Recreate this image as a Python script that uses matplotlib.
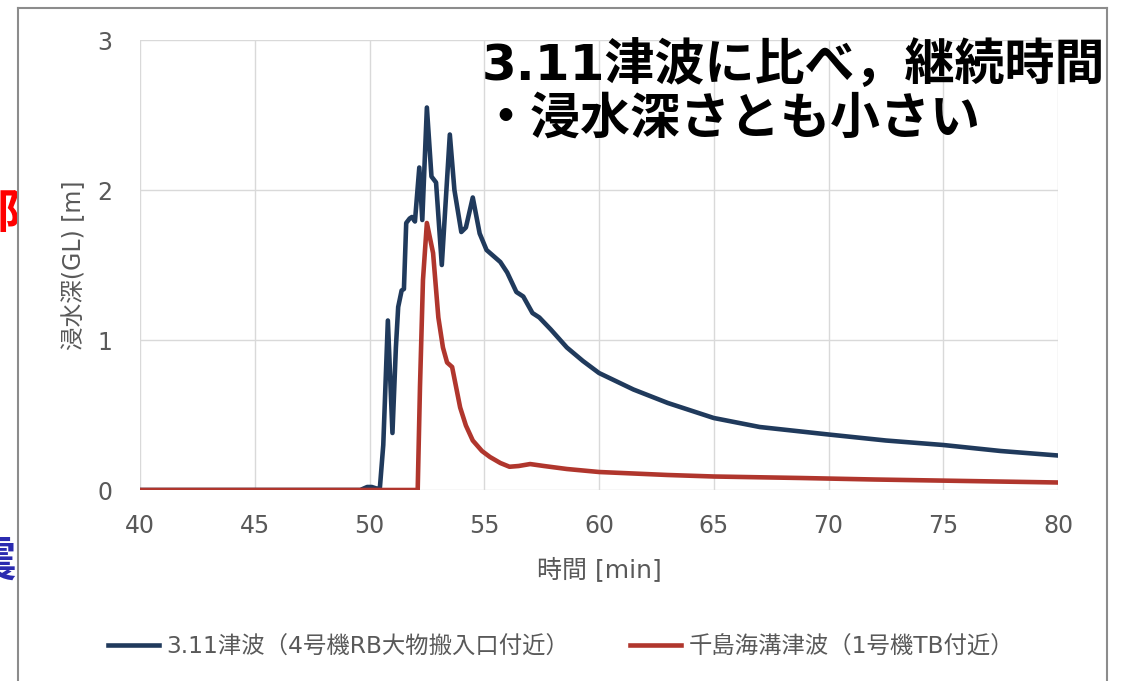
import matplotlib
matplotlib.use("Agg")
import matplotlib.pyplot as plt
from matplotlib.lines import Line2D
import numpy as np

plt.rcParams['font.family'] = ['DejaVu Sans', 'Noto Sans CJK JP']

# 3.11 tsunami (Unit 4 RB entrance)
t_311 = [40, 49.6, 49.9, 50.1, 50.3, 50.45, 50.6, 50.8, 51.0, 51.15, 51.25, 51.4,
         51.5, 51.6, 51.75, 51.85, 51.98, 52.17, 52.3, 52.5, 52.7, 52.9, 53.15,
         53.5, 53.7, 54.0, 54.2, 54.5, 54.8, 55.1, 55.4, 55.7, 56.0, 56.4, 56.7,
         57.1, 57.4, 57.9, 58.6, 59.3, 60.0, 61.5, 63.0, 65.0, 67.0, 68.8, 70.0,
         72.5, 75.0, 77.5, 80.0]
d_311 = [0, 0, 0.02, 0.02, 0.01, 0.01, 0.3, 1.13, 0.38, 0.95, 1.22, 1.33,
         1.34, 1.78, 1.81, 1.82, 1.79, 2.15, 1.8, 2.55, 2.09, 2.05, 1.5,
         2.37, 2.0, 1.72, 1.75, 1.95, 1.71, 1.6, 1.56, 1.52, 1.45, 1.32, 1.29,
         1.18, 1.15, 1.07, 0.95, 0.86, 0.78, 0.67, 0.58, 0.48, 0.42, 0.39, 0.37,
         0.33, 0.30, 0.26, 0.23]

# Chishima trench tsunami (Unit 1 TB)
t_chi = [40, 52.1, 52.2, 52.33, 52.5, 52.77, 53.0, 53.2, 53.38, 53.6, 53.95,
         54.2, 54.5, 54.9, 55.25, 55.7, 56.1, 56.5, 57.0, 57.6, 58.6, 60, 63,
         65, 68.8, 72, 76, 80]
d_chi = [0, 0, 0.69, 1.4, 1.78, 1.58, 1.15, 0.95, 0.85, 0.82, 0.55,
         0.43, 0.33, 0.26, 0.22, 0.18, 0.155, 0.16, 0.173, 0.16, 0.14, 0.12, 0.10,
         0.09, 0.08, 0.07, 0.06, 0.05]

labels = ['3.11津波（4号機RB大物搬入口付近）', '千島海溝津波（1号機TB付近）']
xticks = [40, 45, 50, 55, 60, 65, 70, 75, 80]
yticks = [0, 1, 2, 3]

W, H = 1122, 681
fig = plt.figure(figsize=(W / 100, H / 100), dpi=100)

def fx(px):
    return px / W

def fy(py):
    return 1 - py / H

# cut-off slide text on the left
axl = fig.add_axes([0, 0, fx(18), 1])
axl.set_xlim(0, 18)
axl.set_ylim(H, 0)
axl.axis('off')
axl.text(-4, 214, '部', color='#ff0000', fontsize=34, fontweight='bold',
         ha='center', va='center', family='Noto Sans CJK JP', clip_on=True)
axl.text(-8, 562, '震', color='#2b2bb0', fontsize=34, fontweight='bold',
         ha='center', va='center', family='Noto Sans CJK JP', clip_on=True)

# slide frame
frame = '#8c8c8c'
fig.add_artist(Line2D([fx(18), fx(18)], [0, fy(8)], color=frame, lw=1.5))
fig.add_artist(Line2D([fx(18), fx(1107)], [fy(8), fy(8)], color=frame, lw=1.5))
fig.add_artist(Line2D([fx(1107), fx(1107)], [0, fy(8)], color=frame, lw=1.5))

ax = fig.add_axes([fx(140), fy(490), fx(1058 - 140), (490 - 40) / H])
ax.plot(t_311, d_311, color='#203a5c', lw=3.3, label=labels[0], zorder=3)
ax.plot(t_chi, d_chi, color='#b0362d', lw=3.3, label=labels[1], zorder=3)
ax.set_xlim(40, 80)
ax.set_ylim(0, 3)
ax.set_xticks(xticks)
ax.set_yticks(yticks)
ax.grid(True, color='#d9d9d9', lw=1)
ax.set_axisbelow(True)
for s in ax.spines.values():
    s.set_visible(False)
ax.tick_params(length=0, labelsize=17, labelcolor='#595959')
ax.tick_params(axis='x', pad=17)
ax.tick_params(axis='y', pad=20)
ax.set_xlabel('時間 [min]', fontsize=18, color='#595959', labelpad=14)
ax.set_ylabel('浸水深(GL) [m]', fontsize=17, color='#595959', labelpad=8)

leg = ax.legend(loc='center', bbox_to_anchor=(fx(561), fy(647)),
                bbox_transform=fig.transFigure, ncol=2, frameon=False,
                fontsize=16.8, handlelength=2.2, handletextpad=0.3,
                columnspacing=2.6)
for txt in leg.get_texts():
    txt.set_color('#595959')

fig.text(fx(482), fy(80), '3.11津波に比べ，継続時間', fontsize=36,
         fontweight='bold', color='black', ha='left', va='baseline')
fig.text(fx(480), fy(134), '・浸水深さとも小さい', fontsize=36,
         fontweight='bold', color='black', ha='left', va='baseline')

fig.savefig('out.png', dpi=100)
